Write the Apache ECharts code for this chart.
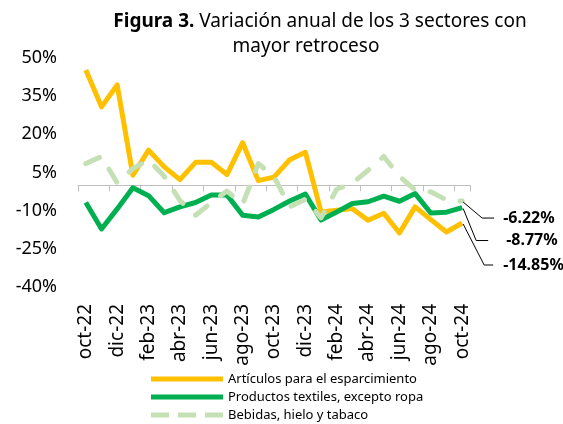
<!DOCTYPE html>
<html><head><meta charset="utf-8">
<script src="https://cdn.jsdelivr.net/npm/echarts@6/dist/echarts.min.js"></script>
<style>html,body{margin:0;padding:0;background:#fff}#c{width:563px;height:424px}</style>
</head><body><div id="c"></div>
<script>
const categories = ['oct-22','nov-22','dic-22','ene-23','feb-23','mar-23','abr-23','may-23','jun-23','jul-23','ago-23','sep-23','oct-23','nov-23','dic-23','ene-24','feb-24','mar-24','abr-24','may-24','jun-24','jul-24','ago-24','sep-24','oct-24'];
const seriesNames = ['Artículos para el esparcimiento','Productos textiles, excepto ropa','Bebidas, hielo y tabaco'];
const esparcimiento = [45.3, 30.8, 39.4, 3.9, 13.8, 7.2, 2.2, 9.0, 9.0, 4.2, 16.7, 1.8, 3.2, 10.0, 13.0, -10.5, -9.8, -9.2, -13.8, -11.0, -18.8, -8.5, -13.5, -18.4, -14.85];
const textiles = [-6.8, -17.2, -9.3, -1.0, -4.1, -10.8, -8.5, -6.8, -3.8, -3.8, -11.8, -12.5, -9.5, -6.2, -3.5, -13.7, -10.5, -7.2, -6.5, -4.3, -6.3, -3.3, -10.9, -10.6, -8.77];
const bebidas = [8.5, 11.3, 0.9, 6.5, 10.0, 3.5, -6.0, -11.8, -6.9, -2.3, -7.5, 8.5, 3.4, -8.5, -5.5, -12.8, -1.6, 0.8, 5.9, 11.3, 3.5, -1.9, -2.6, -5.8, -6.22];
const yMin = -40, yMax = 50, yStep = 15;
const endLabels = ['-14.85%', '-8.77%', '-6.22%'];
const titleBold = 'Figura 3.';
const titleRest = ' Variación anual de los 3 sectores con';
const titleLine2 = 'mayor retroceso';

const FONT = '"Noto Sans", sans-serif';
const colors = ['#FFC000', '#00B050', '#C5E0B4'];
const chart = echarts.init(document.getElementById('c'), null, {renderer: 'canvas'});

const solidIcon = 'path://M0,0h72v5h-72z';
const dashIcon = 'path://M0,0h18v5h-18z M27,0h18v5h-18z M54,0h18v5h-18z';

const option = {
  animation: false,
  backgroundColor: '#fff',
  grid: {left: 78, right: 93, top: 58, bottom: 137, containLabel: false},
  legend: {
    orient: 'vertical', left: 151, top: 372, padding: 0,
    itemWidth: 72, itemHeight: 14, itemGap: 4, itemStyle: {borderWidth: 0},
    textStyle: {fontFamily: FONT, fontSize: 13, lineHeight: 14, color: '#000'},
    data: [
      {name: seriesNames[0], icon: solidIcon},
      {name: seriesNames[1], icon: solidIcon},
      {name: seriesNames[2], icon: dashIcon}
    ]
  },
  xAxis: [{
    type: 'category', data: categories, boundaryGap: true,
    axisLine: {onZero: true, lineStyle: {color: '#BFBFBF', width: 1}},
    axisTick: {show: true, interval: 1, length: 6, lineStyle: {color: '#BFBFBF'}},
    axisLabel: {show: false}, splitLine: {show: false}
  }, {
    type: 'category', data: categories, boundaryGap: true, position: 'bottom',
    axisLine: {show: false, onZero: false}, axisTick: {show: false}, splitLine: {show: false},
    axisLabel: {show: true, interval: 1, rotate: 90, margin: 17, fontFamily: FONT, fontSize: 19, color: '#000'}
  }],
  yAxis: {
    type: 'value', min: yMin, max: yMax, interval: yStep,
    axisLine: {show: false}, axisTick: {show: false}, splitLine: {show: false},
    axisLabel: {formatter: '{value}%', margin: 21, fontFamily: FONT, fontSize: 18, color: '#000'}
  },
  series: [
    {name: seriesNames[0], type: 'line', data: esparcimiento, symbol: 'none', xAxisIndex: 0,
     lineStyle: {color: colors[0], width: 5, join: 'round'}, itemStyle: {color: colors[0]}},
    {name: seriesNames[1], type: 'line', data: textiles, symbol: 'none', xAxisIndex: 0,
     lineStyle: {color: colors[1], width: 5, join: 'round'}, itemStyle: {color: colors[1]}},
    {name: seriesNames[2], type: 'line', data: bebidas, symbol: 'none', xAxisIndex: 0,
     lineStyle: {color: colors[2], width: 5, type: [15, 17], cap: 'round', join: 'round'}, itemStyle: {color: colors[2]}}
  ]
};
chart.setOption(option);

// annotations: leader lines from last data points
const last = categories.length - 1;
const seriesVals = [esparcimiento, textiles, bebidas];
// offsets (elbow dx,dy ; end dx ; text dx) relative to each end point
const ann = [
  {elbow: [22, 42], end: 31, text: 41},
  {elbow: [14, 33], end: 26, text: 44},
  {elbow: [20, 17], end: 32, text: 41}
];
const graphics = [];
seriesVals.forEach((vals, i) => {
  const p = chart.convertToPixel({xAxisIndex: 0, yAxisIndex: 0}, [last, vals[last]]);
  const a = ann[i];
  const ex = p[0] + a.elbow[0], ey = p[1] + a.elbow[1];
  graphics.push({type: 'polyline', silent: true, z: 10,
    shape: {points: [[p[0] + 1, p[1] + 1], [ex, ey], [p[0] + a.end, ey]]},
    style: {stroke: '#000', lineWidth: 1, fill: null}});
  graphics.push({type: 'text', z: 10, x: p[0] + a.text, y: ey,
    style: {text: endLabels[i], font: 'bold 16px ' + FONT, fill: '#000',
      align: 'left', textAlign: 'left', verticalAlign: 'middle', textVerticalAlign: 'middle'}});
});
graphics.push({type: 'text', x: 320, y: 22, style: {
  text: '{b|' + titleBold + '}' + titleRest,
  rich: {b: {fontWeight: 'bold', fontSize: 19, fontFamily: FONT, fill: '#000'}},
  font: '19px ' + FONT, fill: '#000', align: 'center', textAlign: 'center', verticalAlign: 'middle', textVerticalAlign: 'middle'}});
graphics.push({type: 'text', x: 306, y: 47, style: {
  text: titleLine2, font: '19px ' + FONT, fill: '#000', align: 'center', textAlign: 'center', verticalAlign: 'middle', textVerticalAlign: 'middle'}});
chart.setOption({graphic: graphics});
</script>
</body></html>
